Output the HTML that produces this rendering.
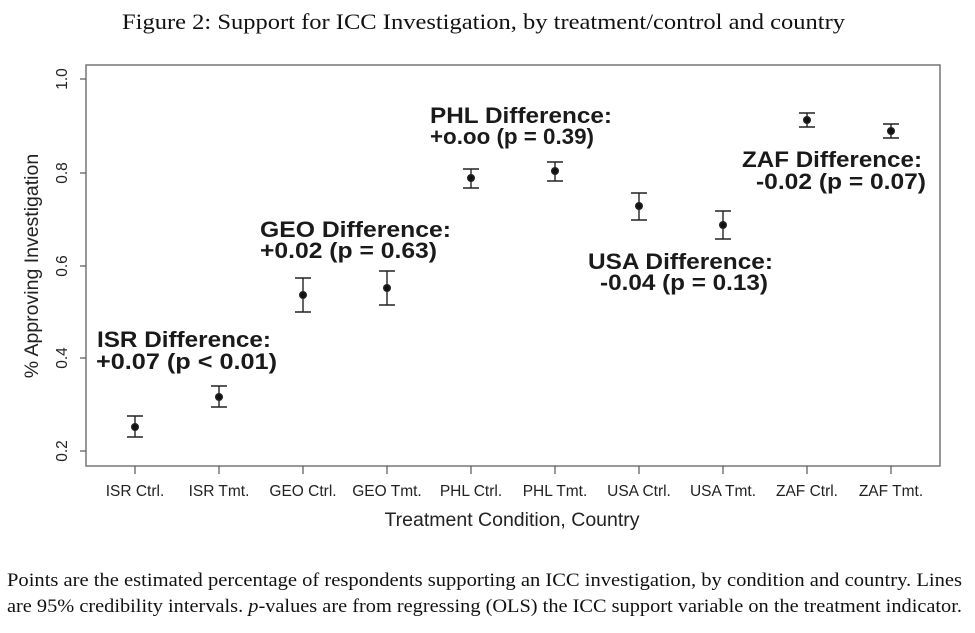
<!DOCTYPE html>
<html><head><meta charset="utf-8"><style>
body{margin:0;background:#fff;width:975px;height:633px;overflow:hidden}
svg{display:block}
</style></head><body>
<svg width="975" height="633" xmlns="http://www.w3.org/2000/svg" style="position:absolute;left:0;top:0">
<text x="122" y="29" textLength="723" lengthAdjust="spacingAndGlyphs" font-family="Liberation Serif,serif" font-size="22" fill="#111">Figure 2: Support for ICC Investigation, by treatment/control and country</text>
<rect x="86" y="65" width="854" height="401" fill="none" stroke="#777" stroke-width="1.5"/>
<g stroke="#555" stroke-width="1.2">
<line x1="80" y1="79" x2="86" y2="79"/><line x1="80" y1="173" x2="86" y2="173"/><line x1="80" y1="266" x2="86" y2="266"/><line x1="80" y1="358" x2="86" y2="358"/><line x1="80" y1="451" x2="86" y2="451"/>
<line x1="135" y1="466" x2="135" y2="474"/><line x1="219" y1="466" x2="219" y2="474"/><line x1="303" y1="466" x2="303" y2="474"/><line x1="387" y1="466" x2="387" y2="474"/><line x1="471" y1="466" x2="471" y2="474"/><line x1="555" y1="466" x2="555" y2="474"/><line x1="639" y1="466" x2="639" y2="474"/><line x1="723" y1="466" x2="723" y2="474"/><line x1="807" y1="466" x2="807" y2="474"/><line x1="891" y1="466" x2="891" y2="474"/>
</g>
<g font-family="Liberation Sans,sans-serif" font-size="15.5" fill="#222" text-anchor="middle">
<text transform="translate(67,79) rotate(-90)">1.0</text>
<text transform="translate(67,173) rotate(-90)">0.8</text>
<text transform="translate(67,266) rotate(-90)">0.6</text>
<text transform="translate(67,358) rotate(-90)">0.4</text>
<text transform="translate(67,451) rotate(-90)">0.2</text>
<text x="135" y="496">ISR Ctrl.</text><text x="219" y="496">ISR Tmt.</text><text x="303" y="496">GEO Ctrl.</text><text x="387" y="496">GEO Tmt.</text><text x="471" y="496">PHL Ctrl.</text><text x="555" y="496">PHL Tmt.</text><text x="639" y="496">USA Ctrl.</text><text x="723" y="496">USA Tmt.</text><text x="807" y="496">ZAF Ctrl.</text><text x="891" y="496">ZAF Tmt.</text>
</g>
<text x="512" y="526" text-anchor="middle" font-family="Liberation Sans,sans-serif" font-size="19.5" fill="#222">Treatment Condition, Country</text>
<text transform="translate(38,266) rotate(-90)" text-anchor="middle" font-family="Liberation Sans,sans-serif" font-size="19.5" fill="#222">% Approving Investigation</text>
<g stroke="#222" stroke-width="1.4" fill="#111">
<path d="M135 416V437M127 416H143M127 437H143"/><circle cx="135" cy="427" r="3.3"/>
<path d="M219 386V407M211 386H227M211 407H227"/><circle cx="219" cy="397" r="3.3"/>
<path d="M303 278V312M295 278H311M295 312H311"/><circle cx="303" cy="295" r="3.3"/>
<path d="M387 271V305M379 271H395M379 305H395"/><circle cx="387" cy="288" r="3.3"/>
<path d="M471 169V188M463 169H479M463 188H479"/><circle cx="471" cy="178" r="3.3"/>
<path d="M555 162V181M547 162H563M547 181H563"/><circle cx="555" cy="171" r="3.3"/>
<path d="M639 193V220M631 193H647M631 220H647"/><circle cx="639" cy="206" r="3.3"/>
<path d="M723 211V239M715 211H731M715 239H731"/><circle cx="723" cy="225" r="3.3"/>
<path d="M807 113V127M799 113H815M799 127H815"/><circle cx="807" cy="120" r="3.3"/>
<path d="M891 124V138M883 124H899M883 138H899"/><circle cx="891" cy="131" r="3.3"/>
</g>
<g font-family="Liberation Sans,sans-serif" font-size="22" font-weight="bold" fill="#1a1a1a">
<text x="97" y="347" textLength="174" lengthAdjust="spacingAndGlyphs">ISR Difference:</text><text x="96" y="369" textLength="181" lengthAdjust="spacingAndGlyphs">+0.07 (p &lt; 0.01)</text>
<text x="260" y="237" textLength="191" lengthAdjust="spacingAndGlyphs">GEO Difference:</text><text x="260" y="258" textLength="177" lengthAdjust="spacingAndGlyphs">+0.02 (p = 0.63)</text>
<text x="430" y="123" textLength="182" lengthAdjust="spacingAndGlyphs">PHL Difference:</text><text x="430" y="144" textLength="164" lengthAdjust="spacingAndGlyphs">+o.oo (p = 0.39)</text>
<text x="588" y="269" textLength="185" lengthAdjust="spacingAndGlyphs">USA Difference:</text><text x="600" y="290" textLength="168" lengthAdjust="spacingAndGlyphs">-0.04 (p = 0.13)</text>
<text x="742" y="167" textLength="180" lengthAdjust="spacingAndGlyphs">ZAF Difference:</text><text x="756" y="189" textLength="170" lengthAdjust="spacingAndGlyphs">-0.02 (p = 0.07)</text>
</g>
<g font-family="Liberation Serif,serif" font-size="19" fill="#111">
<text x="7" y="586" textLength="955" lengthAdjust="spacingAndGlyphs">Points are the estimated percentage of respondents supporting an ICC investigation, by condition and country. Lines</text>
<text x="7" y="612" textLength="955" lengthAdjust="spacingAndGlyphs">are 95% credibility intervals. <tspan font-style="italic">p</tspan>-values are from regressing (OLS) the ICC support variable on the treatment indicator.</text>
</g>
</svg>
</body></html>
